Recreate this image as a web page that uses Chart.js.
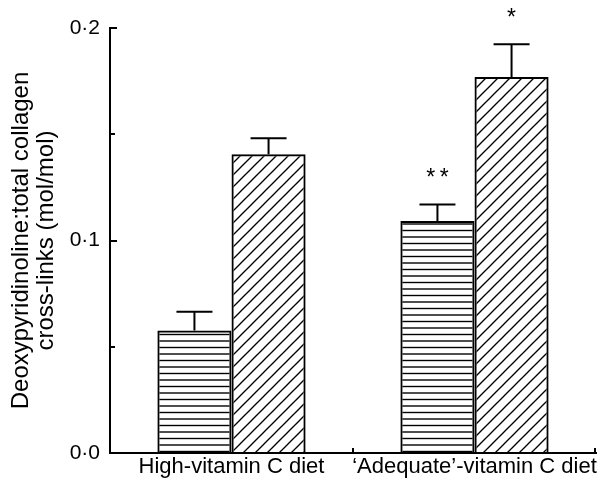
<!DOCTYPE html>
<html>
<head>
<meta charset="utf-8">
<script src="https://cdn.jsdelivr.net/npm/chart.js@4/dist/chart.umd.min.js"></script>
<style>
  html, body { margin: 0; padding: 0; background: #fff; }
  #chart { display: block; }
</style>
</head>
<body>
<canvas id="chart" width="604" height="484"></canvas>
<script>
// Data
const categories = ['High-vitamin C diet', '\u2018Adequate\u2019-vitamin C diet'];
const stripedValues = [0.0577, 0.1092];
const stripedErrors = [0.0088, 0.0078];
const hatchedValues = [0.1406, 0.1769];
const hatchedErrors = [0.0075, 0.0154];
const stripedMarks = ['', '*\u2009*'];
const hatchedMarks = ['', '*'];
const yTicksMajor = [0, 0.1, 0.2];

const FONT = '"Liberation Sans", Arial, Helvetica, sans-serif';

// Fill patterns
function stripePattern() {
  const c = document.createElement('canvas');
  c.width = 8; c.height = 13;
  const g = c.getContext('2d');
  g.strokeStyle = '#000';
  g.lineWidth = 1.4;
  [3, 9.5].forEach(y => {
    g.beginPath(); g.moveTo(0, y); g.lineTo(8, y); g.stroke();
  });
  return g.createPattern(c, 'repeat');
}

function hatchPattern() {
  const s = 12;
  const c = document.createElement('canvas');
  c.width = s; c.height = s;
  const g = c.getContext('2d');
  g.strokeStyle = '#000';
  g.lineWidth = 1.3;
  [[0, s, s, 0], [-s / 2, s / 2, s / 2, -s / 2], [s / 2, s * 1.5, s * 1.5, s / 2]].forEach(l => {
    g.beginPath(); g.moveTo(l[0], l[1]); g.lineTo(l[2], l[3]); g.stroke();
  });
  return g.createPattern(c, 'repeat');
}

// Error bars and significance marks
const errorBars = {
  id: 'errorBars',
  afterDatasetsDraw(chart) {
    const ctx = chart.ctx;
    const y = chart.scales.y;
    const errs = [stripedErrors, hatchedErrors];
    const marks = [stripedMarks, hatchedMarks];
    ctx.save();
    ctx.strokeStyle = '#000';
    ctx.fillStyle = '#000';
    ctx.lineWidth = 2;
    chart.data.datasets.forEach((ds, i) => {
      chart.getDatasetMeta(i).data.forEach((bar, j) => {
        const top = y.getPixelForValue(ds.data[j] + errs[i][j]);
        ctx.beginPath();
        ctx.moveTo(bar.x, bar.y);
        ctx.lineTo(bar.x, top);
        ctx.moveTo(bar.x - 18, top);
        ctx.lineTo(bar.x + 18, top);
        ctx.stroke();
        if (marks[i][j]) {
          ctx.font = '23px ' + FONT;
          ctx.textAlign = 'center';
          ctx.textBaseline = 'alphabetic';
          ctx.fillText(marks[i][j], bar.x, top - 19);
        }
      });
    });
    ctx.restore();
  }
};

// Inward tick marks
const innerTicks = {
  id: 'innerTicks',
  afterDraw(chart) {
    const ctx = chart.ctx;
    const x = chart.scales.x;
    const y = chart.scales.y;
    ctx.save();
    ctx.strokeStyle = '#000';
    ctx.lineWidth = 2;
    ctx.beginPath();
    for (let v = 0; v <= 0.2001; v += 0.05) {
      const py = Math.round(y.getPixelForValue(v));
      const major = yTicksMajor.some(t => Math.abs(t - v) < 1e-6);
      ctx.moveTo(x.left, py);
      ctx.lineTo(x.left + (major ? 7 : 5), py);
    }
    const mid = x.getPixelForValue(0.5);
    ctx.moveTo(mid, y.bottom);
    ctx.lineTo(mid, y.bottom - 5);
    ctx.moveTo(x.right - 1, y.bottom);
    ctx.lineTo(x.right - 1, y.bottom - 5);
    ctx.stroke();
    ctx.restore();
  }
};

const ctx = document.getElementById('chart').getContext('2d');
new Chart(ctx, {
  type: 'bar',
  data: {
    labels: categories,
    datasets: [
      {
        label: 'striped',
        data: stripedValues,
        backgroundColor: stripePattern(),
        borderColor: '#000',
        borderWidth: 2
      },
      {
        label: 'hatched',
        data: hatchedValues,
        backgroundColor: hatchPattern(),
        borderColor: '#000',
        borderWidth: 2
      }
    ]
  },
  options: {
    responsive: false,
    animation: false,
    layout: { padding: { top: 28, right: 8, left: 0, bottom: 0 } },
    datasets: {
      bar: { categoryPercentage: 0.61, barPercentage: 1 }
    },
    scales: {
      x: {
        afterFit: scale => { scale.height = 31; },
        grid: { display: false, drawTicks: false },
        border: { display: true, color: '#000', width: 2 },
        ticks: {
          color: '#000',
          padding: 1,
          maxRotation: 0,
          minRotation: 0,
          autoSkip: false,
          font: { family: FONT, size: 22 }
        }
      },
      y: {
        min: 0,
        max: 0.2,
        afterFit: scale => { scale.width = 110; },
        grid: { display: false, drawTicks: false },
        border: { display: true, color: '#000', width: 2 },
        ticks: {
          stepSize: 0.05,
          color: '#000',
          padding: 10,
          font: { family: FONT, size: 21 },
          callback: value => {
            const major = yTicksMajor.some(t => Math.abs(t - value) < 1e-6);
            return major ? value.toFixed(1).replace('.', '\u00B7') : '';
          }
        },
        title: {
          display: true,
          text: ['Deoxypyridinoline:total collagen', 'cross-links (mol/mol)'],
          color: '#000',
          padding: { top: 9, bottom: 0 },
          font: { family: FONT, size: 24, lineHeight: 1.05 }
        }
      }
    },
    plugins: {
      legend: { display: false },
      tooltip: { enabled: false }
    }
  },
  plugins: [errorBars, innerTicks]
});
</script>
</body>
</html>
